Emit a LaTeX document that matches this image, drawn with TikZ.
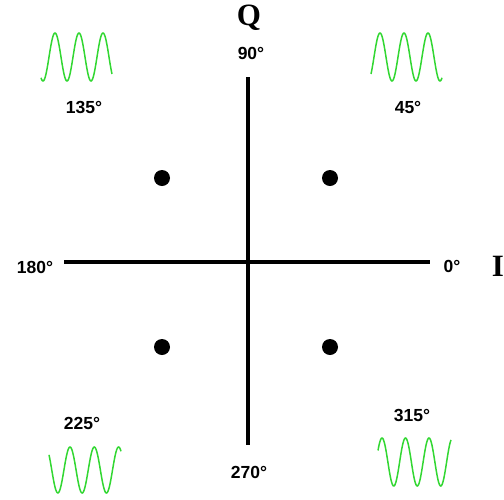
\documentclass[tikz,border=0pt]{standalone}
\usepackage{fontspec}
\setmainfont{Liberation Sans}
\newfontfamily\serifbold{Liberation Serif}
\definecolor{wavegreen}{RGB}{50,215,50}
\begin{document}
\begin{tikzpicture}[x=1pt,y=-1pt,
  lbl/.style={font=\fontsize{17.5}{20}\selectfont\bfseries,inner sep=0pt},
  axlbl/.style={font=\fontsize{31}{34}\selectfont\serifbold\bfseries,inner sep=0pt},
  axis/.style={line width=3.3pt},
  wave/.style={wavegreen,line width=1.5pt,smooth,samples=120},
  pt/.style={circle,fill=black,inner sep=0pt,minimum size=16pt}]
\useasboundingbox (0,0) rectangle (504,499);
% axes
\coordinate (top) at (248,77);
\coordinate (bot) at (248,445);
\coordinate (left) at (64,262);
\coordinate (right) at (430,262);
\draw[axis] (top) -- (bot);
\draw[axis] (left) -- (right);
% points
\node[pt] (p45) at (330,178) {};
\node[pt] (p135) at (162,178) {};
\node[pt] (p225) at (162,347) {};
\node[pt] (p315) at (330,347) {};
% labels
\node[axlbl] (Q) at (249,18) {Q};
\node[axlbl] (I) at (498,266) {I};
\node[lbl] (l90) at (251,53) {90°};
\node[lbl] (l270) at (249,472) {270°};
\node[lbl] (l180) at (35,267) {180°};
\node[lbl] (l0) at (452,266) {0°};
\node[lbl] (l135) at (84,107) {135°};
\node[lbl] (l45) at (408,107) {45°};
\node[lbl] (l225) at (82,423) {225°};
\node[lbl] (l315) at (412,415) {315°};
% waves
\draw[wave,domain=41:112] plot (\x,{57-24*cos(15*(\x-55))});
\draw[wave,domain=371:442] plot (\x,{57-24*cos(15*(\x-380))});
\draw[wave,domain=49:121] plot (\x,{470-23*cos(14.815*(\x-70))});
\draw[wave,domain=378:451] plot (\x,{462-24*cos(15.319*(\x-382))});
\end{tikzpicture}
\end{document}
